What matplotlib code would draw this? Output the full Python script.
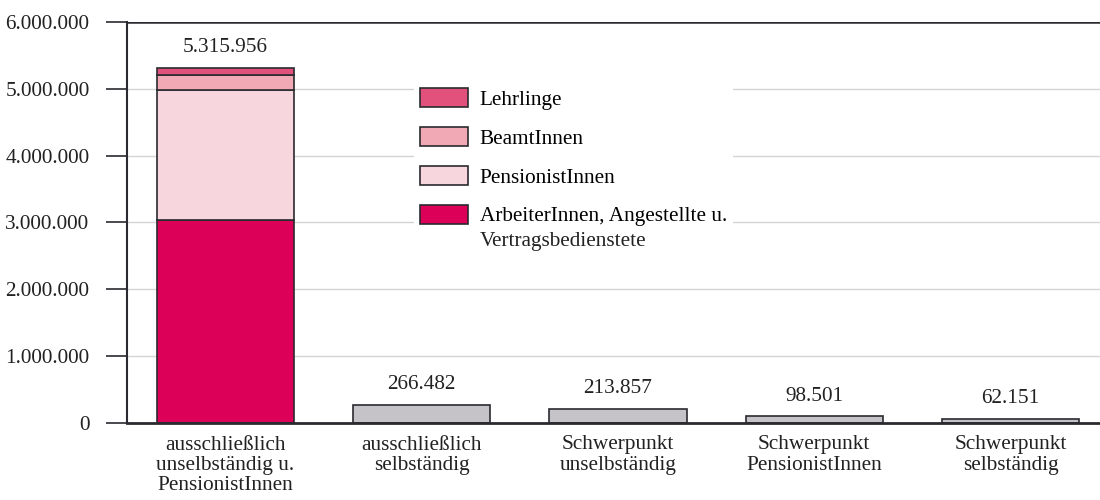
import matplotlib.pyplot as plt
from matplotlib.patches import Patch

# data
categories = ["ausschließlich\nunselbständig u.\nPensionistInnen",
              "ausschließlich\nselbständig",
              "Schwerpunkt\nunselbständig",
              "Schwerpunkt\nPensionistInnen",
              "Schwerpunkt\nselbständig"]
totals = [5315956, 266482, 213857, 98501, 62151]

# stack of the first bar (bottom to top)
stack_labels = ["ArbeiterInnen, Angestellte u.", "PensionistInnen",
                "BeamtInnen", "Lehrlinge"]
stack_values = [3040000, 1940000, 222000, 113956]
stack_colors = ["#dc0058", "#f8d6dd", "#f0a9b5", "#e2517b"]
label_extra = "Vertragsbedienstete"

yticks = [0, 1000000, 2000000, 3000000, 4000000, 5000000, 6000000]


def fmt(v):
    return f"{v:,}".replace(",", ".")


plt.rcParams['font.family'] = ['Liberation Serif', 'DejaVu Serif']
plt.rcParams['font.size'] = 15.3

fig = plt.figure(figsize=(11, 5), dpi=100)
ax = fig.add_axes([0.1155, 0.154, 0.8845, 0.802])

edge = "#2a2a30"
txt = "#222222"
width = 0.70

# gridlines
for t in yticks[1:-1]:
    ax.axhline(t, color="#d4d4d4", lw=1.0, zorder=0)
ax.axhline(yticks[-1], color=edge, lw=1.8, zorder=1)

# stacked first bar
bottom = 0
for val, col in zip(stack_values, stack_colors):
    ax.bar(0, val, width=width, bottom=bottom, color=col,
           edgecolor=edge, linewidth=1.2, zorder=2)
    bottom += val

# gray bars
ax.bar(range(1, len(totals)), totals[1:], width=width, color="#c5c3c8",
       edgecolor=edge, linewidth=1.2, zorder=2)

# value labels
for i, v in enumerate(totals):
    ax.text(i, v + 160000, fmt(v), ha="center", va="bottom", color=txt)

ax.set_xlim(-0.5, 4.455)
ax.set_ylim(0, 6000000)
ax.set_yticks(yticks)
ax.set_yticklabels([fmt(t) for t in yticks])
ax.set_xticks(range(len(categories)))
ax.set_xticklabels(categories, linespacing=1.1)
ax.tick_params(axis="x", length=0, pad=9, colors=txt)
ax.tick_params(axis="y", length=15, width=1.2, color=edge, pad=12,
               colors=txt)
for lab in ax.get_yticklabels():
    lab.set_color(txt)

ax.spines["top"].set_visible(False)
ax.spines["right"].set_visible(False)
ax.spines["left"].set_color(edge)
ax.spines["left"].set_linewidth(1.5)
ax.spines["bottom"].set_color(edge)
ax.spines["bottom"].set_linewidth(2.0)

# legend (reverse of stacking order)
handles = [Patch(facecolor=c, edgecolor=edge, linewidth=1.2)
           for c in stack_colors[::-1]]
leg = ax.legend(handles, stack_labels[::-1], loc="upper left",
                bbox_to_anchor=(0.284, 0.877), frameon=True, framealpha=1,
                edgecolor="none", handlelength=2.25, handleheight=1.0,
                labelspacing=0.8, handletextpad=0.55, borderpad=0.3)
leg.get_frame().set_linewidth(0)
leg.set_zorder(3)

# second line of the last legend label
ax.annotate(label_extra, xy=(0, 0), xycoords=leg.get_texts()[-1],
            xytext=(0, -17.5), textcoords="offset points",
            ha="left", va="bottom", color=txt, zorder=4)

fig.savefig("out.png", dpi=100)
